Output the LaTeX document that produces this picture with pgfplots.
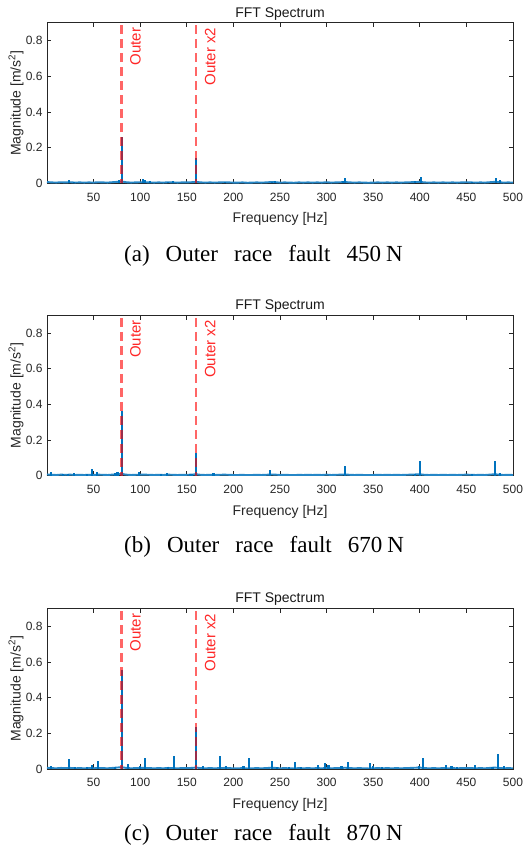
\documentclass[border=0pt]{standalone}
\usepackage{fontspec}
\setmainfont{Liberation Serif}
\newfontfamily\arial{Liberation Sans}
\usepackage{pgfplots}
\pgfplotsset{compat=1.18}
\usepackage{pgfplotstable}
\definecolor{mblue}{rgb}{0,0.447,0.741}
\definecolor{mgray}{rgb}{0.15,0.15,0.15}
\definecolor{mred}{rgb}{1,0.15,0.15}

% noise floor (Hz, magnitude)
\pgfplotstableread{
f m
0 0.007
5 0.005
10 0.004
15 0.006
20 0.005
25 0.006
30 0.004
35 0.005
40 0.004
45 0.005
50 0.004
55 0.006
60 0.005
65 0.004
70 0.006
75 0.008
80 0.010
85 0.006
90 0.004
95 0.005
100 0.006
105 0.006
110 0.005
115 0.004
120 0.005
125 0.004
130 0.006
135 0.005
140 0.004
145 0.005
150 0.005
155 0.006
160 0.008
165 0.005
170 0.004
175 0.005
180 0.004
185 0.005
190 0.006
195 0.005
200 0.004
205 0.004
210 0.005
215 0.003
220 0.004
225 0.005
230 0.004
235 0.005
240 0.007
245 0.006
250 0.004
255 0.005
260 0.004
265 0.003
270 0.005
275 0.004
280 0.005
285 0.004
290 0.005
295 0.004
300 0.006
305 0.004
310 0.005
315 0.006
320 0.007
325 0.005
330 0.004
335 0.005
340 0.004
345 0.003
350 0.004
355 0.005
360 0.004
365 0.005
370 0.004
375 0.005
380 0.004
385 0.005
390 0.006
395 0.007
400 0.008
405 0.005
410 0.004
415 0.005
420 0.004
425 0.005
430 0.004
435 0.005
440 0.004
445 0.005
450 0.006
455 0.005
460 0.004
465 0.005
470 0.004
475 0.006
480 0.008
485 0.006
490 0.004
495 0.005
500 0.004
}\floor

\pgfplotstableread{
f m
23.6 0.020
29 0.009
77 0.020
80 0.260
103.4 0.024
105.6 0.020
110.6 0.015
130 0.010
135 0.013
160 0.140
191 0.008
241 0.010
245 0.011
318 0.014
320 0.032
395 0.012
401.3 0.037
456 0.010
481.8 0.032
486 0.018
}\peaksA

\pgfplotstableread{
f m
4 0.018
17.5 0.010
22.9 0.012
29 0.015
43 0.008
48.6 0.037
54 0.018
73 0.015
75.6 0.020
80 0.365
99 0.022
122 0.008
129 0.015
153.5 0.012
156 0.012
160 0.125
178.6 0.013
239.5 0.034
320 0.052
395 0.010
400.5 0.084
456 0.008
481 0.082
486 0.015
}\peaksB

\pgfplotstableread{
f m
4.3 0.017
23.6 0.056
30 0.012
43 0.010
48.6 0.020
55 0.043
73 0.012
80 0.553
86.6 0.026
99.9 0.015
105.3 0.061
130.3 0.012
136 0.071
160 0.238
167 0.015
185.7 0.074
192 0.015
210.8 0.018
217 0.063
241 0.043
247 0.013
259.7 0.010
266 0.041
273 0.012
291 0.020
298 0.033
302 0.020
316 0.015
322.5 0.037
347 0.032
350 0.015
359 0.012
398.7 0.015
403 0.060
428 0.020
434 0.015
440 0.012
459 0.022
478 0.012
484 0.084
490 0.015
}\peaksC

\tikzset{
  vmark/.style={draw=red, opacity=0.6, line width=2.5pt, dash pattern=on 9pt off 5pt},
  lbl/.style={rotate=90, anchor=north east, inner sep=0pt, text=mred, font=\arial\fontsize{15}{15}\selectfont},
}

\pgfplotsset{
  fft/.style={
    scale only axis, width=466pt, height=160.5pt,
    xmin=0, xmax=500, ymin=0, ymax=0.9,
    xtick={50,100,...,500},
    ytick={0,0.2,0.4,0.6,0.8},
    yticklabels={0,0.2,0.4,0.6,0.8},
    tick align=inside, major tick length=4.5pt,
    axis line style={mgray, line width=0.8pt},
    every tick/.style={mgray, line width=0.8pt},
    /pgf/number format/assume math mode=true,
    ticklabel style={font=\arial\fontsize{12}{12}\selectfont, text=mgray},
    xticklabel style={yshift=-6pt},
    yticklabel style={xshift=-1pt},
    title={FFT Spectrum},
    every axis title shift=0pt,
    title style={font=\arial\fontsize{14}{14}\selectfont, text=black!90, at={(axis description cs:0.5,1)}, anchor=center, yshift=9pt, inner sep=0pt},
    xlabel={Frequency [Hz]},
    xlabel style={font=\arial\fontsize{14}{14}\selectfont, text=mgray, at={(axis description cs:0.5,-0.224)}, anchor=center, inner sep=0pt},
    ylabel={Magnitude [m/s\textsuperscript{2}]},
    ylabel style={font=\arial\fontsize{14}{14}\selectfont, text=mgray, at={(axis description cs:-0.0665,0.5)}, anchor=center, inner sep=0pt},
    clip=true,
  },
}

\newcommand{\spectrum}[1]{%
  \addplot[mblue!85, line width=1.9pt, no marks] table[x=f,y=m] {\floor};
  \addplot[mblue, line width=2.1pt, ycomb, no marks] table[x=f,y=m] {#1};
  \addplot[vmark] coordinates {(80,0.885) (80,0)};
  \addplot[vmark] coordinates {(160,0.885) (160,0)};
  \node[lbl] at ([xshift=8.5pt,yshift=-5pt]axis cs:80,0.9) {Outer};
  \node[lbl] at ([xshift=8.5pt,yshift=-5pt]axis cs:160,0.9) {Outer x2};
}

\newcommand{\capt}[1]{\fontsize{23}{23}\selectfont(#1)\hspace{16pt}Outer\hspace{16pt}race\hspace{16pt}fault\hspace{16pt}}

\begin{document}
\begin{tikzpicture}
\path[use as bounding box] (-47pt,0pt) rectangle (476pt,853pt);

\begin{axis}[fft, at={(0pt,669.7pt)}, anchor=south west]
\spectrum{\peaksA}
\end{axis}
\node[anchor=base west, inner sep=0pt] at (77pt,591pt) {\capt{a}450\hspace{5pt}N};

\begin{axis}[fft, at={(0pt,377.3pt)}, anchor=south west]
\spectrum{\peaksB}
\end{axis}
\node[anchor=base west, inner sep=0pt] at (77pt,300.3pt) {\capt{b}670\hspace{5pt}N};

\begin{axis}[fft, at={(0pt,84pt)}, anchor=south west]
\spectrum{\peaksC}
\end{axis}
\node[anchor=base west, inner sep=0pt] at (77pt,12.3pt) {\capt{c}870\hspace{5pt}N};
\end{tikzpicture}
\end{document}
